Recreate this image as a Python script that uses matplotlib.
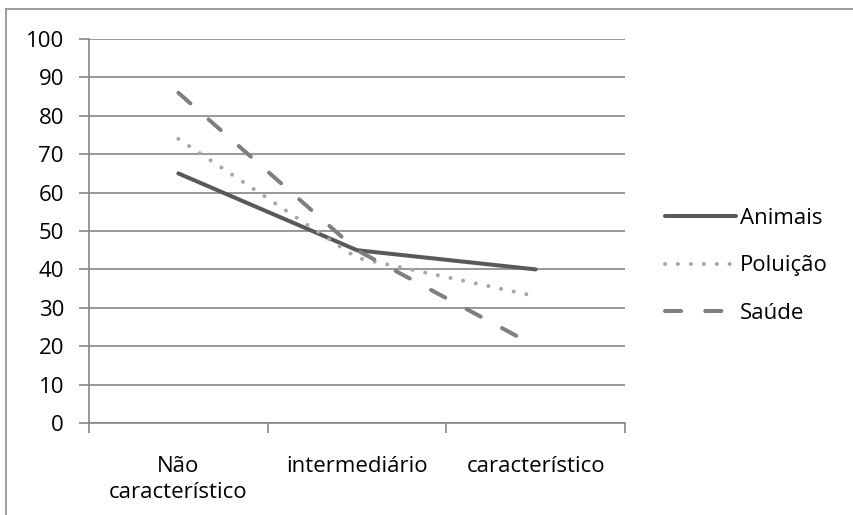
import matplotlib
matplotlib.use("Agg")
import matplotlib.pyplot as plt
from matplotlib.lines import Line2D

plt.rcParams["font.family"] = ["Open Sans", "DejaVu Sans"]

categories = ["Não\ncaracterístico", "intermediário", "característico"]
animais = [65, 45, 40]
poluicao = [74, 43, 33]
saude = [86, 45, 20]
yticks = list(range(0, 101, 10))

fig = plt.figure(figsize=(8.54, 5.15), dpi=100)
ax = fig.add_axes([89 / 854, 92 / 515, 536 / 854, 384 / 515])

# chart area border (only left/top visible in the picture)
fig.add_artist(Line2D([6 / 854, 6 / 854], [0, 1 - 9 / 515], transform=fig.transFigure,
                      color="#8c8c8c", lw=1.2))
fig.add_artist(Line2D([6 / 854, 1], [1 - 9 / 515, 1 - 9 / 515], transform=fig.transFigure,
                      color="#8c8c8c", lw=1.2))

x = [1, 2, 3]
lw = 2.9
ax.plot(x, animais, color="#595959", lw=lw, solid_capstyle="round", label="Animais", zorder=3)
ax.plot(x, poluicao, color="#a6a6a6", lw=lw, dashes=(0.01, 3.2), dash_capstyle="round",
        label="Poluição", zorder=3)
ax.plot(x, saude, color="#7f7f7f", lw=lw, dashes=(4.0, 6.0), dash_capstyle="round",
        label="Saúde", zorder=3)

fs = 16
ax.set_xlim(0.5, 3.5)
ax.set_ylim(0, 100)
ax.set_yticks(yticks)
ax.set_xticks(x)
ax.set_xticklabels(categories, fontsize=fs, linespacing=1.32)
ax.set_xticks([0.5, 1.5, 2.5, 3.5], minor=True)
ax.tick_params(axis="x", which="major", length=0, pad=24)
ax.tick_params(axis="x", which="minor", length=7, color="#868686", width=1.2)
ax.tick_params(axis="y", length=7, color="#868686", width=1.2, labelsize=fs, pad=11)

ax.grid(axis="y", color="#868686", lw=1.2, zorder=1)
for s in ["top", "right"]:
    ax.spines[s].set_visible(False)
for s in ["left", "bottom"]:
    ax.spines[s].set_color("#868686")
    ax.spines[s].set_linewidth(1.2)

ax.legend(loc="center left", bbox_to_anchor=(654 / 854, 1 - 266 / 515),
          bbox_transform=fig.transFigure, frameon=False, fontsize=fs,
          handlelength=3.2, handletextpad=0.15, labelspacing=1.2, borderpad=0)

fig.savefig("out.png", dpi=100)
